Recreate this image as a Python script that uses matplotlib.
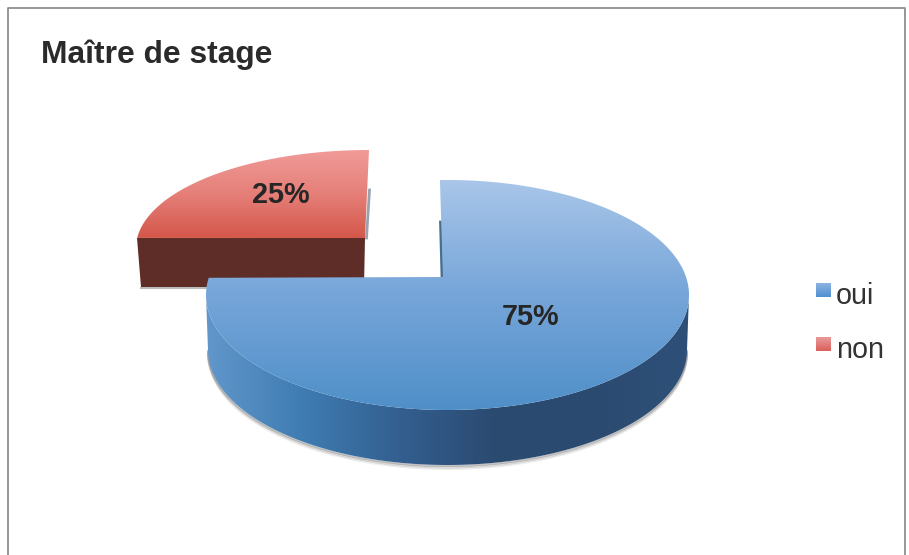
import numpy as np
import matplotlib
matplotlib.use("Agg")
import matplotlib.pyplot as plt
from matplotlib.colors import LinearSegmentedColormap
from matplotlib.patches import Polygon

plt.rcParams["font.family"] = ["Liberation Sans", "DejaVu Sans"]

title = "Maître de stage"
categories = ["oui", "non"]
shares = [75, 25]

fig = plt.figure(figsize=(9.09, 5.55), dpi=100)
ax = fig.add_axes([0, 0, 1, 1])
ax.set_xlim(0, 909)
ax.set_ylim(555, 0)
ax.axis("off")
ax.set_autoscale_on(False)

top_blue = LinearSegmentedColormap.from_list("tb", ["#a9c6e9", "#76a5d9", "#4f8fc8"])
side_blue = LinearSegmentedColormap.from_list(
    "sb", ["#6197cb", "#3f7cb2", "#335f90", "#2b4a70", "#2b4a70", "#2e5078"])
top_red = LinearSegmentedColormap.from_list("tr", ["#f09b98", "#e57f78", "#d4574b"])
leg_blue = LinearSegmentedColormap.from_list("lb", ["#8db4e2", "#4f8fd0"])
leg_red = LinearSegmentedColormap.from_list("lr", ["#e99a98", "#d9605c"])


def arc(cx, cy, rx, ry, t0, t1, n=200):
    t = np.radians(np.linspace(t0, t1, n))
    return np.column_stack([cx + rx * np.cos(t), cy - ry * np.sin(t)])


def fill_gradient(pts, cmap, horizontal=False, z=2):
    x0, x1 = pts[:, 0].min(), pts[:, 0].max()
    y0, y1 = pts[:, 1].min(), pts[:, 1].max()
    g = np.linspace(0, 1, 256)
    g = g[None, :] if horizontal else g[:, None]
    im = ax.imshow(g, cmap=cmap, extent=[x0, x1, y1, y0], aspect="auto", zorder=z)
    clip = Polygon(pts, closed=True, transform=ax.transData, fc="none", ec="none")
    ax.add_patch(clip)
    im.set_clip_path(clip)


# chart frame, cropped at the bottom of the picture
ax.plot([7.5, 7.5, 905, 905], [555, 7.5, 7.5, 555], color="#8f8f8f", lw=1.3, zorder=1)

# ---- red slice, pulled out of the pie
# the sweep is squeezed a little by the perspective of the 3D view
red_sweep = 360 * shares[1] / 100 * (84.1 / 90.0)
red_arc = arc(369, 248, 233, 98, 90, 90 + red_sweep)
red_top = np.vstack([[[365, 238]], red_arc])
# soft shadows round the slice
ax.plot([369.5, 366.5], [190, 238], color="#9aa3ad", lw=2, zorder=1.5)
ax.plot([141, 364], [288, 288], color="#bbbbbb", lw=1.5, zorder=1.5)
ax.add_patch(Polygon([[137, 238], [365, 238], [364, 287], [141, 287]],
                     closed=True, fc="#5f2d27", ec="none", zorder=2))
fill_gradient(red_top, top_red, z=2.5)

# ---- blue slice
cx, cy, rx, ry = 447.5, 295, 241.5, 115
depth = 55
apex = [443, 277]
# same perspective bend for the big slice
start = 91.8
end = start - 360 * shares[0] / 100 * (280.4 / 270.0)
blue_top = np.vstack([[apex], arc(cx, cy, rx, ry, start, end, 400)])

lower = arc(cx, cy + depth, rx - 2, ry, 360, 180)
upper = arc(cx, cy, rx, ry, 180, 360)
blue_side = np.vstack([upper, lower])

# soft shadow under the rim
for off, a in [(1, 0.35), (2.5, 0.2), (4, 0.1)]:
    ax.plot(lower[:, 0], lower[:, 1] + off, color="#555555", alpha=a, lw=1.5, zorder=2.8)

# dark edge of the notch
ax.plot([440.5, 442], [222, 277], color="#47708f", lw=2, zorder=2.9)

fill_gradient(blue_side, side_blue, horizontal=True, z=3)
fill_gradient(blue_top, top_blue, z=3.5)

# ---- value labels
ax.text(281, 195, "{}%".format(shares[1]), fontsize=20.8, fontweight="bold",
        color="#262626", ha="center", va="center", zorder=5)
ax.text(531, 317, "{}%".format(shares[0]), fontsize=20.8, fontweight="bold",
        color="#262626", ha="center", va="center", zorder=5)

# ---- title and legend
ax.text(41, 55, title, fontsize=22.9, fontweight="bold", color="#2a2a2a",
        ha="left", va="center", zorder=5)

for name, y, cmap in zip(categories, [290, 344], [leg_blue, leg_red]):
    sq = np.array([[815.5, y - 7], [830.5, y - 7], [830.5, y + 7], [815.5, y + 7]], dtype=float)
    fill_gradient(sq, cmap, z=4)
    ax.text(836, y + 6, name, fontsize=20.7, color="#333333", ha="left", va="center", zorder=5)

ax.set_xlim(0, 909)
ax.set_ylim(555, 0)
fig.savefig("out.png", dpi=100, facecolor="white")
